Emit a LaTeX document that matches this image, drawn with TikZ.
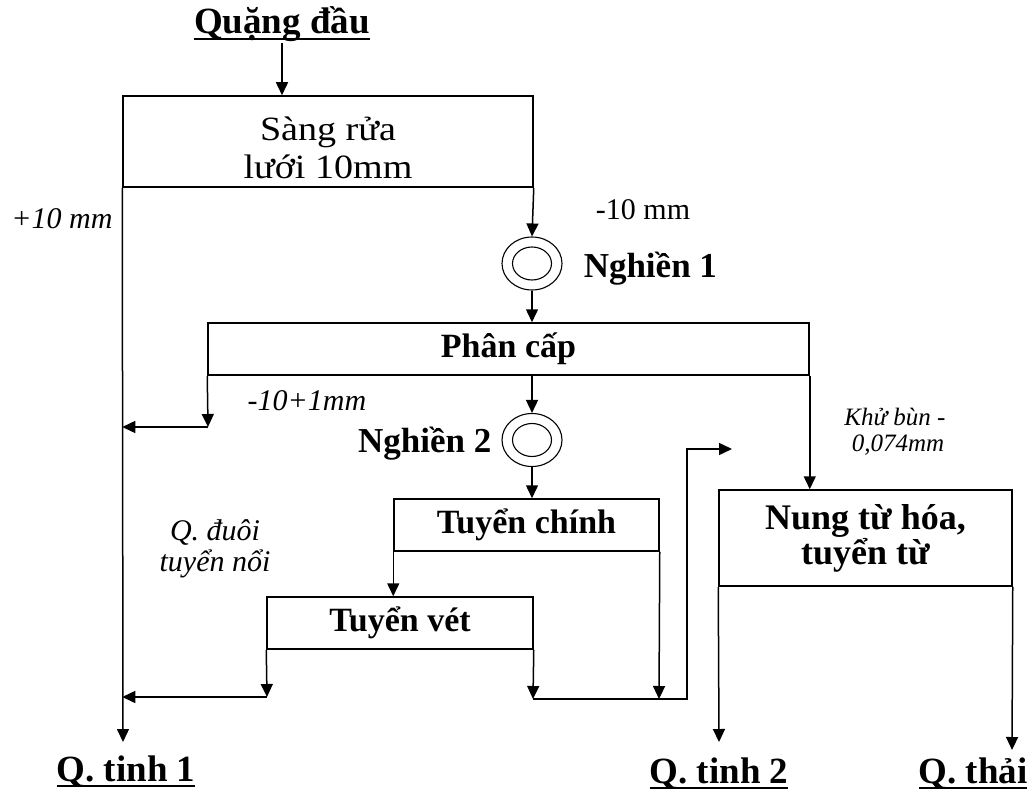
\documentclass[tikz,border=0pt]{standalone}
\usepackage{fontspec}
\setmainfont{Liberation Serif}
\newfontfamily\widefont[FakeStretch=1.12]{Liberation Serif}
\usetikzlibrary{arrows.meta,shapes.geometric}
\newcommand\myul[1]{\setbox0\hbox{#1}\rlap{\rule[-6pt]{\wd0}{1.6pt}}\box0}
\begin{document}
\begin{tikzpicture}[x=1pt,y=-1pt,line width=1.5pt,
  arr/.style={-{Triangle[length=13pt,width=12pt]}},
  box/.style={draw,rectangle,inner sep=0pt,align=center},
  grind/.style={draw,ellipse,minimum width=60pt,minimum height=53pt,inner sep=0pt,line width=1.1pt},
  reg/.style={anchor=base,inner sep=0pt,font=\fontsize{30}{34}\selectfont},
  ital/.style={anchor=base,inner sep=0pt,font=\itshape\fontsize{30}{34}\selectfont},
  small/.style={anchor=base,inner sep=0pt,font=\itshape\fontsize{25}{28}\selectfont},
  bold/.style={anchor=base,inner sep=0pt,font=\bfseries\fontsize{35}{40}\selectfont},
  big/.style={anchor=base,inner sep=0pt,font=\bfseries\fontsize{37}{40}\selectfont}
]
\useasboundingbox (0,0) rectangle (1032,794);

% boxes
\node[box,minimum width=410pt,minimum height=91pt,font=\widefont\fontsize{34}{38}\selectfont] (sang) at (328,141.5) {\rule{0pt}{36pt}Sàng rửa\\lưới 10mm};
\node[box,minimum width=601pt,minimum height=52pt,font=\bfseries\fontsize{34}{40}\selectfont] (phan) at (508.5,349) {Phân cấp};
\node[box,minimum width=265pt,minimum height=52pt,font=\bfseries\fontsize{34}{40}\selectfont] (tc) at (526.5,525) {Tuyển chính};
\node[box,minimum width=266pt,minimum height=52pt,font=\bfseries\fontsize{34}{40}\selectfont] (tv) at (400,623) {Tuyển vét};
\node[box,minimum width=293pt,minimum height=96pt,font=\bfseries\fontsize{36}{28}\selectfont] (nung) at (865.5,538) {Nung từ hóa,\\tuyển từ};

% grinders
\node[grind] (n1) at (532,263.5) {};
\draw[line width=1.1pt] (n1.center) ellipse (19.5 and 16.5);
\node[grind] (n2) at (532,440) {};
\draw[line width=1.1pt] (n2.center) ellipse (19.5 and 16.5);

% labels
\node[big] (quang) at (282,34) {\myul{Quặng đầu}};
\node[ital] (p10) at (62,229) {+10 mm};
\node[reg] (m10) at (643,219) {-10 mm};
\node[bold,anchor=base west] (ln1) at (583,277) {Nghiền 1};
\node[ital] (m101) at (307,410) {-10+1mm};
\node[bold,anchor=base east] (ln2) at (492,452) {Nghiền 2};
\node[ital] (qd1) at (215,540) {Q. đuôi};
\node[ital] (qd2) at (215,571) {tuyển nổi};
\node[small] (kb1) at (895,425) {Khử bùn -};
\node[small] (kb2) at (898,451) {0,074mm};
\node[big] (qt1) at (126,781) {\myul{Q. tinh 1}};
\node[big] (qt2) at (719,783) {\myul{Q. tinh 2}};
\node[big] (qth) at (973,783) {\myul{Q. thải}};

% coordinates
\coordinate (q1a) at (123,742);
\coordinate (a1) at (208,427);
\coordinate (a2) at (267,697);
\coordinate (a3) at (533,699);
\coordinate (a4) at (659,699);
\coordinate (a5) at (687,699);
\coordinate (a6) at (732,449);
\coordinate (q2a) at (719,742);
\coordinate (qta) at (1012,750);

% connectors
\draw[arr] (quang.south) -- (quang.south |- sang.north);
\draw[arr] (sang.south east) -- (n1.north);
\draw[arr] (n1.south) -- (n1.south |- phan.north);
\draw[arr] (n2.north |- phan.south) -- (n2.north);
\draw[arr] (n2.south) -- (n2.south |- tc.north);
\draw[arr] (sang.south west) -- (q1a);
\draw[arr] (phan.south west) -- (a1);
\draw[arr] (a1) -- (a1 -| sang.south west);
\draw[arr] (tc.south west) -- (tc.south west |- tv.north);
\draw[arr] (tv.south west) -- (a2);
\draw[arr] (a2) -- (a2 -| sang.south west);
\draw[arr] (tv.south east) -- (a3);
\draw[arr] (tc.south east) -- (a4);
\draw[arr] (a3) -- (a5) |- (a6);
\draw[arr] (phan.south east) -- (phan.south east |- nung.north);
\draw[arr] (nung.south west) -- (q2a);
\draw[arr] (nung.south east) -- (qta);
\end{tikzpicture}
\end{document}
